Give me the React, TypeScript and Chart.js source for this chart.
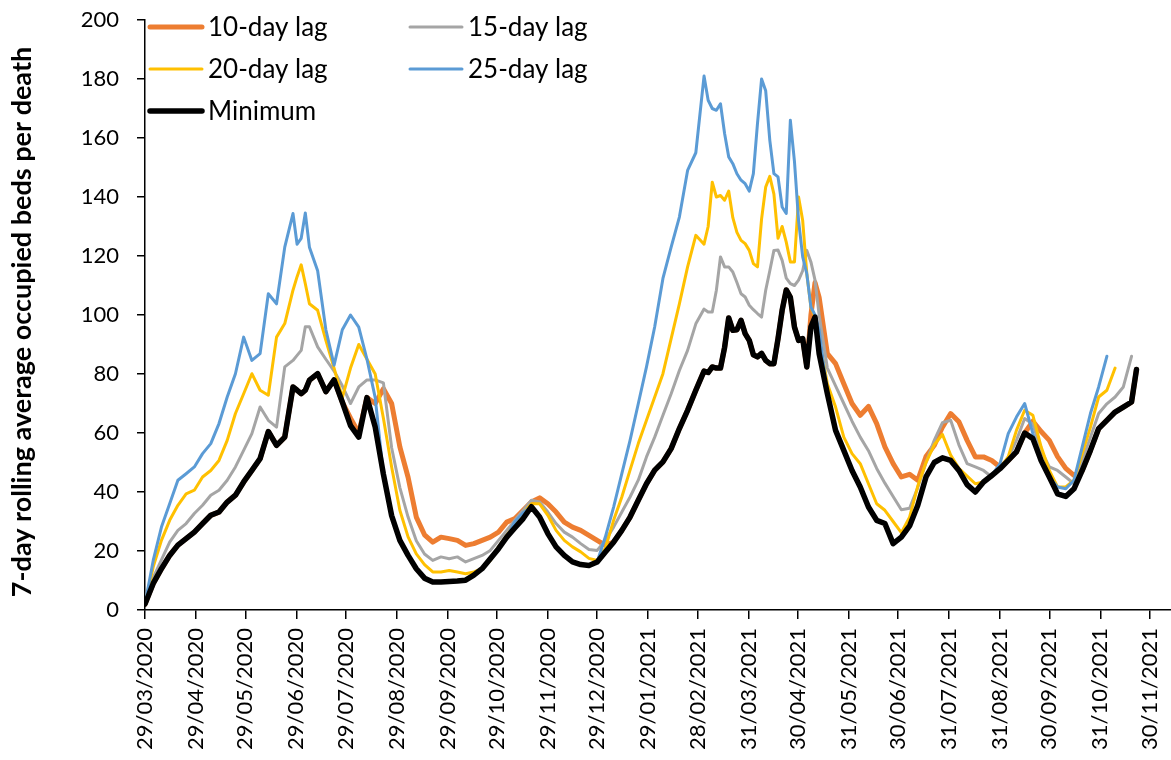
import React, { useEffect, useRef } from "react";
import { Chart, registerables } from "chart.js";

Chart.register(...registerables);

// ---------- data ----------
const START_DATE = "29/03/2020";

const xTickLabels = [
  "29/03/2020", "29/04/2020", "29/05/2020", "29/06/2020", "29/07/2020",
  "29/08/2020", "29/09/2020", "29/10/2020", "29/11/2020", "29/12/2020",
  "29/01/2021", "28/02/2021", "31/03/2021", "30/04/2021", "31/05/2021",
  "30/06/2021", "31/07/2021", "31/08/2021", "30/09/2021", "31/10/2021",
  "30/11/2021",
];

const yTickValues = [0, 20, 40, 60, 80, 100, 120, 140, 160, 180, 200];

// days since 29/03/2020
const sampleDays = [
  0, 5, 10, 15, 20, 25, 30, 35, 40, 45, 50, 55, 60, 65, 70, 75, 80, 85, 90,
  92.5, 95, 97.5,
  100, 105, 110, 115, 120, 125, 130, 135, 140, 145,
  150, 155, 160, 165, 170, 175, 180, 185, 190, 195,
  200, 205, 210, 215, 220, 225, 230, 235, 240, 245,
  250, 255, 260, 265, 270, 275, 280, 285, 290, 295,
  300, 305, 310, 315, 320, 325, 330, 335,
  340, 342.5, 345, 347.5, 350, 352.5, 355, 357.5, 360, 362.5, 365, 367.5, 370, 372.5, 375,
  377.5, 380, 382.5, 385, 387.5, 390, 392.5, 395, 397.5, 400, 402.5, 405, 407.5, 410,
  415, 420, 425, 430, 435, 440, 445,
  450, 455, 460, 465, 470, 475, 480, 485, 490, 495,
  500, 505, 510, 515, 520, 525, 530, 535, 540, 545,
  550, 555, 560, 565, 570, 575, 580, 585, 590, 595,
  600, 603,
];

const lag10 = [
  2, 9, 14, 18.5, 22, 24.2, 26.4, 29.3, 32.1, 33.2, 36.6, 38.9, 43.4, 47.3, 51.3, 60.5, 55.8, 58.6, 75.6,
  74.5, 73.3, 74.5,
  77.9, 80.1, 74, 78, 70.5, 65, 60, 72, 70, 75,
  70, 55.3, 45, 31.5, 25.5, 23, 24.7, 24.2, 23.6, 21.9,
  22.5, 23.6, 24.7, 26.4, 29.8, 31, 33.8, 36.6, 38, 36,
  33.2, 29.8, 28.1, 27, 25.3, 23.6, 21.9, 23, 27, 31.5,
  37.2, 42.8, 47.4, 50.2, 54.7, 61.5, 67.7, 74.5,
  81, 80.5, 82.4, 82, 82, 89, 99, 94.8, 95, 98.2, 93.7, 91.4, 86.5, 85.8, 87,
  84.6, 83.5, 83.5, 92, 101.6, 108.5, 106, 95.9, 91.4, 92, 82.4, 100, 111, 106,
  86.9, 83.5, 76.7, 70, 66, 69, 63.2,
  55.3, 49.6, 45.1, 46, 44, 52, 55.8, 62, 66.6, 63.8,
  57.5, 51.9, 51.9, 50.7, 48.5, 50.7, 53.6, 60, 64, 60.5,
  57.5, 52, 48, 45.6, 47.3, 54.1, 61.5, 64.3, 67.1, 68.8,
  70.5, 81.5,
];

const lag15 = [
  2, 11, 17, 23, 27, 29.3, 32.7, 35.5, 38.9, 40.6, 44, 48.5, 54.1, 59.8, 68.8, 64.3, 62, 82.4, 84.6,
  86.3, 88, 96,
  96, 89.2, 85, 81, 76, 70, 75.6, 78, 78, 77,
  55, 41.5, 31.5, 23.5, 19, 16.8, 18, 17.4, 18, 16.3,
  17.4, 18.5, 20.2, 23.6, 27, 30.4, 33.8, 37.2, 36.6, 33.2,
  29.3, 26.4, 24.7, 22.5, 20.5, 20.2, 23.6, 28.1, 33.2, 38.3,
  44, 51.9, 58.6, 66, 73.3, 81.2, 88, 97,
  102, 101, 101, 108.4, 119.7, 116.3, 116.3, 114.6, 111, 107.2, 106.1, 103.3, 101.8, 100.5, 99.3,
  108.4, 115, 121.9, 122, 118.5, 112.5, 110.6, 110, 111.8, 115, 121.9, 118, 111.8, 100,
  82, 76, 70, 64, 58.6, 54, 48,
  43, 38.5, 34, 34.5, 41.5, 50, 57.5, 63.5, 64.3, 56,
  49.6, 48.5, 47.3, 45.1, 48.5, 51.5, 57.5, 64.9, 63, 54.1,
  48.5, 47.3, 45.1, 42.8, 50.7, 58.6, 66.6, 69.9, 72.2, 75.6,
  86, null,
];

const lag20 = [
  2, 14.6, 23.6, 30.4, 35.5, 39.4, 40.6, 45.1, 47.3, 50.7, 57.5, 66.6, 73.3, 80.1, 74.5, 72.8, 92.5, 97.1, 108.4,
  113, 117, 110.6,
  103.8, 101.6, 91.4, 82, 72, 82, 90, 85, 80, 65,
  48.5, 33.8, 24.8, 19, 15.4, 12.9, 12.9, 13.4, 12.9, 12.3,
  12.9, 14, 16.8, 21.4, 25.3, 29.3, 32.7, 36, 36, 32.1,
  27, 23.6, 21.4, 19.7, 17.5, 16.8, 21, 30.4, 38.3, 47.4,
  56.4, 64.3, 72.2, 80.1, 92, 103.8, 116.3, 127,
  124, 130, 145, 140, 140.5, 138.9, 142, 133, 128, 125.3, 124.2, 121.9, 117.4, 116.3, 132.6,
  143.4, 147, 141, 126, 130, 124.7, 118, 118, 140, 132, 114, 102.7, 99.3, 92,
  76.7, 68.8, 58.6, 53, 49.6, 42.8, 36,
  33.8, 30, 26.2, 31.5, 42, 50, 56, 59.5, 52.5, 48,
  45.4, 42.8, 43.4, 45.6, 47.9, 52, 60.9, 67.7, 66, 55.3,
  47.3, 41.7, 41.7, 44, 53, 62, 72.2, 74.5, 82, null,
  null, null,
];

const lag25 = [
  2, 16.8, 28.1, 36, 44, 46.2, 48.5, 53, 56.4, 63.2, 72.2, 80.1, 92.5, 84.6, 86.9, 107.2, 103.8, 123, 134.4,
  124, 126, 134.6,
  123, 115, 95, 83, 95, 100, 95.9, 85, 72, 46,
  32, 23.6, 18.5, 14, 10.8, 9.5, 9.5, 9.7, 9.8, 10.1,
  11.8, 14, 17.4, 20.8, 24.7, 30, 33, 35, 31.5, 25.9,
  21.4, 18.5, 16.3, 15.4, 15.1, 16.3, 24.8, 34.9, 46.2, 57.5,
  69.9, 82.4, 96, 112.4, 123, 133.2, 149, 155,
  181, 172.8, 170, 169.4, 171.6, 161.5, 153.6, 151.3, 147.9, 145.7, 144.5, 142, 147.9, 164.9, 180,
  176, 159.2, 147.9, 146.8, 136.6, 134.4, 166, 152, 132, 119.7, 114, 102.7, 100, 95,
  73.3, 60.9, 54.1, 47.3, 41.7, 34.9, 30.4,
  29.3, 22.5, 24.7, 28.5, 35.5, 45.1, 50, 51.6, 50.7, 47.3,
  42.5, 40, 43.4, 45.6, 49.6, 59.8, 65.4, 70, 59.8, 50.7,
  45.1, 41.7, 41.1, 44, 55.3, 66.6, 75.6, 86, null, null,
  null, null,
];

const minimum = [
  2, 9, 14, 18.5, 22, 24.2, 26.4, 29.3, 32.1, 33.2, 36.6, 38.9, 43.4, 47.3, 51.3, 60.5, 55.8, 58.6, 75.6,
  74.5, 73.3, 74.5,
  77.9, 80.1, 74, 78, 70.5, 62.5, 58.6, 72, 62, 46,
  32, 23.6, 18.5, 14, 10.8, 9.5, 9.5, 9.7, 9.8, 10.1,
  11.8, 14, 17.4, 20.8, 24.7, 27.9, 31, 35, 31.5, 25.9,
  21.4, 18.5, 16.3, 15.4, 15.1, 16.3, 19.7, 23, 27, 31.5,
  37.2, 42.8, 47.4, 50.2, 54.7, 61.5, 67.7, 74.5,
  81, 80.5, 82.4, 82, 82, 89, 99, 94.8, 95, 98.2, 93.7, 91.4, 86.5, 85.8, 87,
  84.6, 83.5, 83.5, 92, 101.6, 108.5, 106, 95.9, 91.4, 92, 82.4, 96, 99.3, 86.9,
  73.3, 60.9, 54.1, 47.3, 41.7, 34.9, 30.4,
  29.3, 22.5, 24.7, 28.5, 35.5, 45.1, 50, 51.6, 50.7, 47.3,
  42.5, 40, 43.4, 45.6, 47.9, 50.7, 53.6, 60, 58.1, 50.7,
  45.1, 39.4, 38.5, 41.1, 47.3, 54.1, 61.5, 64.3, 67.1, 68.8,
  70.5, 81.5,
];

const seriesLabels = ["10-day lag", "15-day lag", "20-day lag", "25-day lag", "Minimum"];
const yAxisTitle = "7-day rolling average occupied beds per death";
const X_AXIS_END_DAY = 624;

// ---------- styling ----------
const FONT = "Lato, 'Liberation Sans', Arial, sans-serif";
const COLORS = ["#ED7D31", "#A5A5A5", "#FFC000", "#5B9BD5", "#000000"];
const WIDTHS = [5, 3, 3, 3, 5.5];
const DRAW_ORDER = [4, 3, 2, 1, 0];

function dayOffset(label: string): number {
  const [d, m, y] = label.split("/").map(Number);
  const [d0, m0, y0] = START_DATE.split("/").map(Number);
  return Math.round((Date.UTC(y, m - 1, d) - Date.UTC(y0, m0 - 1, d0)) / 86400000);
}

const tickDays = xTickLabels.map(dayOffset);

const overlayPlugin = {
  id: "overlay",
  afterDraw(chart: any) {
    const ctx = chart.ctx as CanvasRenderingContext2D;
    ctx.save();
    // legend (2 columns inside plot)
    const colX = [148, 408];
    const rowY = [27, 69, 111];
    chart.data.datasets.forEach((ds: any, i: number) => {
      const cx = colX[i % 2];
      const cy = rowY[Math.floor(i / 2)];
      ctx.beginPath();
      ctx.strokeStyle = ds.borderColor;
      ctx.lineWidth = ds.borderWidth;
      ctx.lineCap = "round";
      ctx.moveTo(cx + 2, cy);
      ctx.lineTo(cx + 54, cy);
      ctx.stroke();
      ctx.fillStyle = "#000";
      ctx.font = `26px ${FONT}`;
      ctx.textAlign = "left";
      ctx.textBaseline = "middle";
      ctx.fillText(ds.label, cx + 60, cy + 1);
    });
    // y axis title
    ctx.translate(22, 322);
    ctx.rotate(-Math.PI / 2);
    ctx.font = `bold 27px ${FONT}`;
    ctx.textAlign = "center";
    ctx.textBaseline = "middle";
    ctx.fillStyle = "#000";
    ctx.fillText(yAxisTitle, 0, 0);
    ctx.restore();
  },
};

export default function App() {
  const canvasRef = useRef<HTMLCanvasElement | null>(null);

  useEffect(() => {
    const canvas = canvasRef.current;
    if (!canvas) return;
    const allSeries = [lag10, lag15, lag20, lag25, minimum];
    const chart = new Chart(canvas, {
      type: "line",
      data: {
        datasets: allSeries.map((vals, i) => ({
          label: seriesLabels[i],
          data: sampleDays.map((d, j) => ({ x: d, y: vals[j] })),
          borderColor: COLORS[i],
          backgroundColor: COLORS[i],
          borderWidth: WIDTHS[i],
          pointRadius: 0,
          tension: 0,
          borderJoinStyle: "round",
          borderCapStyle: "round",
          order: DRAW_ORDER[i],
          spanGaps: false,
        })),
      },
      options: {
        animation: false,
        responsive: false,
        maintainAspectRatio: false,
        devicePixelRatio: 1,
        layout: { padding: { top: 20, right: 0, bottom: 0, left: 0 } },
        plugins: {
          legend: { display: false },
          tooltip: { enabled: false },
          title: { display: false },
        },
        scales: {
          x: {
            type: "linear",
            min: 0,
            max: X_AXIS_END_DAY,
            afterBuildTicks: (scale: any) => {
              scale.ticks = tickDays.map((v) => ({ value: v }));
            },
            afterFit: (scale: any) => {
              scale.height = 150;
              scale.paddingLeft = 0;
              scale.paddingRight = 0;
            },
            ticks: {
              autoSkip: false,
              minRotation: 90,
              maxRotation: 90,
              padding: 9,
              color: "#000",
              font: { family: FONT, size: 22 },
              callback: (_v: any, i: number) => xTickLabels[i],
            },
            grid: {
              drawOnChartArea: false,
              drawTicks: true,
              tickLength: 9,
              color: "#000",
              lineWidth: 1.5,
            },
            border: { color: "#000", width: 1.5 },
          },
          y: {
            min: yTickValues[0],
            max: yTickValues[yTickValues.length - 1],
            afterBuildTicks: (scale: any) => {
              scale.ticks = yTickValues.map((v) => ({ value: v }));
            },
            afterFit: (scale: any) => {
              scale.width = 145;
              scale.paddingTop = 0;
              scale.paddingBottom = 0;
            },
            ticks: {
              padding: 18,
              color: "#000",
              font: { family: FONT, size: 22 },
            },
            grid: {
              drawOnChartArea: false,
              drawTicks: true,
              tickLength: 8,
              color: "#000",
              lineWidth: 1.5,
            },
            border: { color: "#000", width: 1.5 },
          },
        },
      },
      plugins: [overlayPlugin],
    } as any);
    return () => chart.destroy();
  }, []);

  return (
    <div style={{ position: "absolute", left: 0, top: 0, width: 1171, height: 760, background: "#fff" }}>
      <canvas ref={canvasRef} width={1171} height={760} style={{ width: 1171, height: 760, display: "block" }} />
    </div>
  );
}
